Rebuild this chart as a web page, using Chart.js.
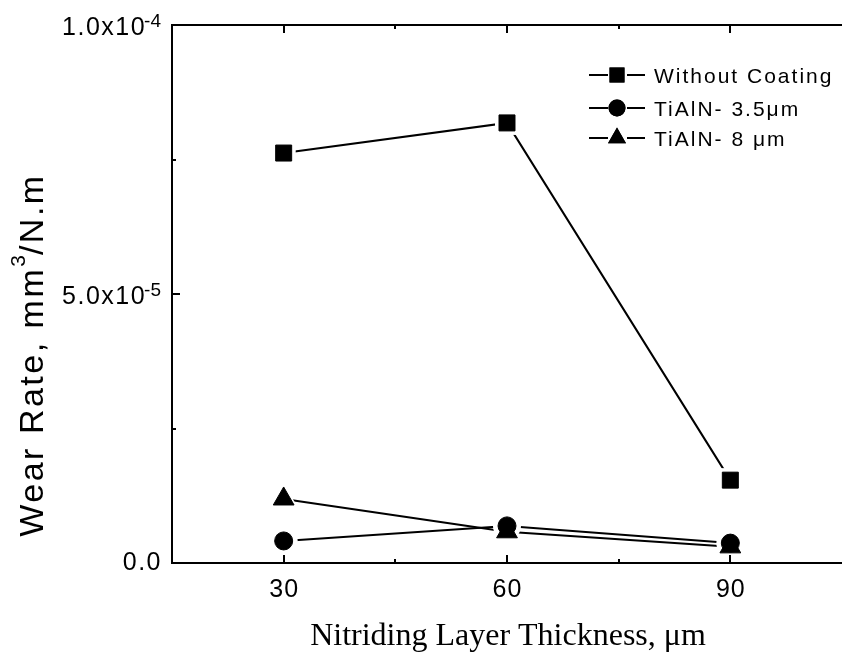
<!DOCTYPE html>
<html>
<head>
<meta charset="utf-8">
<script src="https://cdn.jsdelivr.net/npm/chart.js@4.4.0/dist/chart.umd.min.js"></script>
<style>
  html, body { margin: 0; padding: 0; background: #fff; }
  #chart { display: block; }
</style>
</head>
<body>
<canvas id="chart" width="842" height="656"></canvas>
<script>
// data
const thickness = [30, 60, 90];
const withoutCoating = [7.62e-5, 8.18e-5, 1.54e-5];
const tialn35 = [4.1e-6, 6.9e-6, 3.7e-6];
const tialn8 = [1.19e-5, 5.8e-6, 3.0e-6];
const seriesNames = ['Without Coating', 'TiAlN- 3.5\u03bcm', 'TiAlN- 8 \u03bcm'];

const xTicks = [30, 60, 90];
const xMinorTicks = [45, 75];
const yTicks = [0, 5e-5, 1e-4];
const yMinorTicks = [2.5e-5, 7.5e-5];
const yTickMantissa = ['0.0', '5.0', '1.0'];
const yTickExponent = ['', '-5', '-4'];

const SANS = '"Liberation Sans", Arial, sans-serif';
const SERIF = '"Liberation Serif", "Times New Roman", serif';

const styles = [
  { pointStyle: 'rect', radius: 11.3, halo: 17 },
  { pointStyle: 'circle', radius: 9, halo: 14 },
  { pointStyle: 'triangle', radius: 12, halo: 16 }
];
const values = [withoutCoating, tialn35, tialn8];

const toPoints = arr => arr.map((v, i) => ({ x: thickness[i], y: v }));

// line + white halo first, black markers on top
const datasets = [];
values.forEach((arr, i) => {
  datasets.push({
    label: seriesNames[i] + ' line',
    data: toPoints(arr),
    showLine: true,
    borderColor: '#000',
    borderWidth: 2,
    pointStyle: styles[i].pointStyle,
    pointRadius: styles[i].halo,
    pointBackgroundColor: '#fff',
    pointBorderWidth: 0,
    order: 2
  });
});
values.forEach((arr, i) => {
  datasets.push({
    label: seriesNames[i],
    data: toPoints(arr),
    showLine: false,
    pointStyle: styles[i].pointStyle,
    pointRadius: styles[i].radius,
    pointBackgroundColor: '#000',
    pointBorderColor: '#000',
    pointBorderWidth: 1,
    order: 1
  });
});

function setFont(ctx, size, family, spacing) {
  ctx.font = size + 'px ' + family;
  if ('letterSpacing' in ctx) ctx.letterSpacing = spacing + 'px';
}

const decorations = {
  id: 'decorations',
  afterDatasetsDraw(chart) {
    const { ctx, chartArea: a, scales: { x, y } } = chart;
    ctx.save();
    ctx.strokeStyle = '#000';
    ctx.fillStyle = '#000';
    ctx.lineWidth = 2;

    // frame
    ctx.beginPath();
    ctx.moveTo(a.left, a.top);
    ctx.lineTo(a.right + 2, a.top);
    ctx.moveTo(a.left, a.top - 1);
    ctx.lineTo(a.left, a.bottom + 1);
    ctx.moveTo(a.left - 1, a.bottom);
    ctx.lineTo(a.right + 2, a.bottom);
    ctx.stroke();

    // inward ticks
    ctx.beginPath();
    const xt = (v, len) => {
      const px = Math.round(x.getPixelForValue(v));
      ctx.moveTo(px, a.bottom); ctx.lineTo(px, a.bottom - len);
      ctx.moveTo(px, a.top); ctx.lineTo(px, a.top + len);
    };
    xTicks.forEach(v => xt(v, 8));
    xMinorTicks.forEach(v => xt(v, 4));
    const yt = (v, len) => {
      const py = Math.round(y.getPixelForValue(v));
      ctx.moveTo(a.left, py); ctx.lineTo(a.left + len, py);
    };
    yTicks.forEach(v => yt(v, 8));
    yMinorTicks.forEach(v => yt(v, 4));
    ctx.stroke();

    // x tick labels
    setFont(ctx, 25, SANS, 1);
    ctx.textBaseline = 'alphabetic';
    xTicks.forEach(v => {
      const s = String(v);
      const w = ctx.measureText(s).width;
      ctx.fillText(s, x.getPixelForValue(v) - w / 2 + 0.5, a.bottom + 34);
    });

    // y tick labels with superscript exponent
    const right = a.left - 11;
    yTicks.forEach((v, i) => {
      const py = y.getPixelForValue(v);
      if (!yTickExponent[i]) {
        setFont(ctx, 25, SANS, 1.5);
        const w = ctx.measureText(yTickMantissa[i]).width;
        ctx.fillText(yTickMantissa[i], right - w + 1, py + 7);
        return;
      }
      setFont(ctx, 19, SANS, 0);
      const ew = ctx.measureText(yTickExponent[i]).width;
      ctx.fillText(yTickExponent[i], right - ew, py + 2);
      setFont(ctx, 25, SANS, 1.5);
      const m = yTickMantissa[i] + 'x10';
      const mw = ctx.measureText(m).width;
      ctx.fillText(m, right - ew - mw + 2, py + 10);
    });

    // x title
    setFont(ctx, 32, SERIF, 0);
    const xt1 = 'Nitriding Layer Thickness, \u03bcm';
    const xw = ctx.measureText(xt1).width;
    ctx.fillText(xt1, (a.left + a.right) / 2 - xw / 2 + 1, 645);

    // y title (rotated)
    ctx.save();
    ctx.translate(43, 355);
    ctx.rotate(-Math.PI / 2);
    const p1 = 'Wear Rate, mm', p2 = '3', p3 = '/N.m';
    setFont(ctx, 34, SANS, 2.5);
    const w1 = ctx.measureText(p1).width;
    const w3 = ctx.measureText(p3).width;
    setFont(ctx, 21, SANS, 0);
    const w2 = ctx.measureText(p2).width;
    let cx = -(w1 + w2 + w3) / 2;
    setFont(ctx, 34, SANS, 2.5);
    ctx.fillText(p1, cx, 0);
    cx += w1;
    setFont(ctx, 21, SANS, 0);
    ctx.fillText(p2, cx, -18);
    cx += w2;
    setFont(ctx, 34, SANS, 2.5);
    ctx.fillText(p3, cx, 0);
    ctx.restore();

    // legend
    const rows = [75, 108, 138];
    const legendRadius = [10.6, 8.5, 10.4];
    seriesNames.forEach((name, i) => {
      const ry = rows[i];
      ctx.lineWidth = 2;
      ctx.beginPath();
      ctx.moveTo(589, ry); ctx.lineTo(608, ry);
      ctx.moveTo(627, ry); ctx.lineTo(645, ry);
      ctx.stroke();
      Chart.helpers.drawPoint(ctx, {
        pointStyle: styles[i].pointStyle,
        radius: legendRadius[i],
        borderWidth: 0,
        rotation: 0
      }, 617, ry);
      ctx.fill();
      setFont(ctx, 21, SANS, 2);
      ctx.fillText(name, 654, ry + 7.5);
    });

    ctx.restore();
  }
};

new Chart(document.getElementById('chart').getContext('2d'), {
  type: 'scatter',
  data: { datasets: datasets },
  options: {
    responsive: false,
    animation: false,
    devicePixelRatio: 1,
    layout: { autoPadding: false, padding: { left: 172, top: 25, right: 0, bottom: 93 } },
    plugins: { legend: { display: false }, tooltip: { enabled: false } },
    scales: {
      x: { type: 'linear', min: 15, max: 105, display: false },
      y: { type: 'linear', min: 0, max: 1e-4, display: false }
    }
  },
  plugins: [decorations]
});
</script>
</body>
</html>
